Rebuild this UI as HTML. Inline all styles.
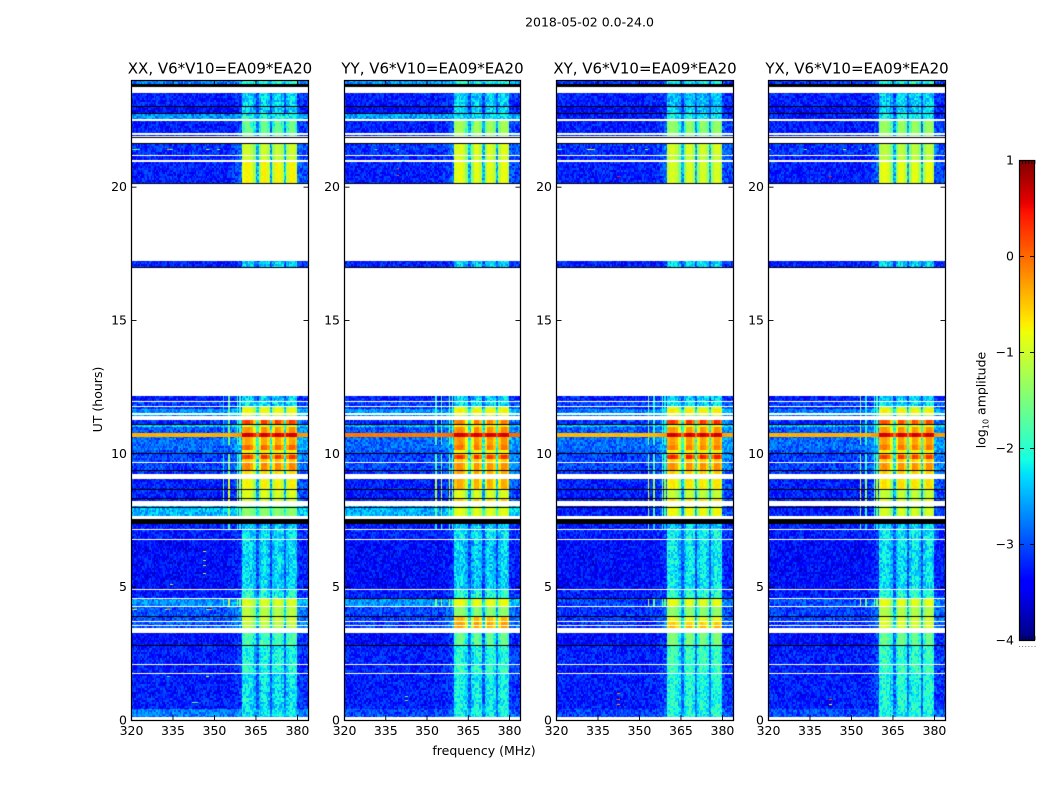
<!DOCTYPE html>
<html lang="en">
<head>
<meta charset="utf-8">
<title>2018-05-02 0.0-24.0</title>
<style>
html,body{margin:0;padding:0;background:#fff}
#figure{position:relative;width:1050px;height:800px;background:#fff;overflow:hidden;font-family:"DejaVu Sans","Liberation Sans",sans-serif;color:#000}
canvas{position:absolute;display:block}
svg{position:absolute;left:0;top:0}
text{font-family:"DejaVu Sans","Liberation Sans",sans-serif;fill:#000}
</style>
</head>
<body>
<div id="figure">
<canvas id="heat0" width="177" height="640" style="left:131px;top:80px"></canvas>
<canvas id="heat1" width="176" height="640" style="left:344px;top:80px"></canvas>
<canvas id="heat2" width="177" height="640" style="left:556px;top:80px"></canvas>
<canvas id="heat3" width="177" height="640" style="left:768px;top:80px"></canvas>
<svg id="overlay" width="1050" height="800" viewBox="0 0 1050 800">
<text x="589.5" y="26.5" text-anchor="middle" font-size="12.5">2018-05-02 0.0-24.0</text>
<text x="484" y="755" text-anchor="middle" font-size="12.5">frequency (MHz)</text>
<text transform="translate(102,399.5) rotate(-90)" text-anchor="middle" font-size="12.5">UT (hours)</text>
<text transform="translate(985.5,400) rotate(-90)" text-anchor="middle" font-size="12.5">log<tspan font-size="8" dy="3">10</tspan><tspan dy="-3"> amplitude</tspan></text>
</svg>
</div>
<script>
// ---- chart values ----
const W = null;   // flagged: white
const K = -99;    // zero amplitude: black
const panelTitles = ["XX, V6*V10=EA09*EA20", "YY, V6*V10=EA09*EA20", "XY, V6*V10=EA09*EA20", "YX, V6*V10=EA09*EA20"];
const xTicks = [320, 335, 350, 365, 380];
const yTicks = [0, 5, 10, 15, 20];
const colorbarTicks = [-4, -3, -2, -1, 0, 1];

// UT band edges (hours), bottom of each panel to top
const utEdges = [
  0,0.11,0.43,1.725,1.76,2.06,2.10,2.775,2.81,3.26,
  3.45,3.54,3.58,3.66,3.71,3.86,3.90,4.24,4.28,4.54,
  4.58,4.875,4.91,6.75,6.79,7.125,7.16,7.35,7.55,7.65,
  7.95,7.99,8.025,8.21,8.27,8.31,8.63,8.67,9.04,9.225,
  9.34,9.38,9.62,9.66,9.79,9.94,9.98,10.02,10.125,10.31,
  10.61,10.76,11.0,11.06,11.1,11.25,11.4,11.44,11.51,11.67,
  11.72,11.78,11.92,11.96,12.15,16.95,17.0,17.21,20.1,20.13,
  20.93,21.0,21.14,21.19,21.6,21.64,21.83,21.87,21.9,21.93,
  22.0,22.46,22.54,22.725,22.76,22.99,23.03,23.51,23.75,23.85,24
];

// log10 amplitude outside the 360-380 MHz band, one value per UT band
const backgroundXX = [
  W,-2.6,-3.1,W,-3.1,W,-3.1,K,-3.2,W,
  -2.8,W,-2.8,W,-2.8,K,-2.8,W,-2.5,W,
  -3.1,W,-3.2,W,-3.1,W,-3.1,K,W,-2.3,
  K,-2.4,W,-3.1,K,-3.1,K,-3.1,W,-3.0,
  K,-2.9,W,-2.9,-2.9,-2.9,K,-2.8,-2.7,-2.7,
  -0.35,-2.8,-2.2,K,-3.0,W,-2.5,W,-2.5,-3.0,
  W,-2.9,W,-3.1,W,K,-3.1,W,K,-3.1,
  W,-3.1,W,-3.0,K,W,K,W,-3.0,W,
  -3.1,W,-2.5,K,-3.2,K,-3.1,W,K,-2.6
];
const backgroundYY = [
  W,-2.85,-3.1,W,-3.1,W,-3.1,K,-3.2,W,
  -2.9,W,-2.9,W,-2.9,K,-2.9,W,-2.5,K,
  -3.1,W,-3.2,W,-3.1,W,-3.1,K,W,-2.35,
  K,-2.4,W,-3.1,K,-3.1,K,-3.1,W,-3.0,
  K,-2.9,W,-2.9,-2.9,-2.9,K,-2.8,-2.7,-2.7,
  -0.05,-2.8,-2.3,K,-3.0,W,-2.5,W,-2.5,-3.0,
  W,-2.9,W,-3.1,W,K,-3.1,W,K,-3.1,
  W,-3.1,W,-3.0,K,W,K,W,-3.0,W,
  -3.1,W,-2.4,K,-3.2,K,-3.1,W,K,-2.5
];
const backgroundXY = [
  W,-2.9,-3.1,W,-3.1,W,-3.1,K,-3.2,W,
  -3.0,W,-3.0,W,-3.0,K,-3.0,W,-2.9,K,
  -3.1,W,-3.2,W,-3.1,W,-3.1,K,W,-3.1,
  K,-3.1,W,-3.1,K,-3.1,K,-3.1,W,-3.0,
  K,-2.9,W,-2.9,-2.9,-2.9,K,-2.8,-2.7,-2.7,
  -0.4,-2.8,-2.3,K,-3.0,W,-2.6,W,-2.6,-3.0,
  W,-2.9,W,-3.1,W,K,-3.1,W,K,-3.1,
  W,-3.1,W,-3.0,K,W,K,W,-3.0,W,
  -3.1,W,-3.1,K,-3.2,K,-3.1,W,K,-3.0
];
const backgroundYX = [
  W,-2.85,-3.1,W,-3.1,W,-3.1,K,-3.2,W,
  -3.0,W,-3.0,W,-2.9,K,-2.9,W,-2.8,W,
  -3.1,W,-3.2,W,-3.1,W,-3.1,K,W,-3.1,
  K,-3.1,W,-3.1,K,-3.1,K,-3.1,W,-3.0,
  K,-2.9,W,-2.9,-2.9,-2.9,K,-2.8,-2.7,-2.7,
  -0.35,-2.8,-2.3,K,-3.0,W,-2.6,W,-2.6,-3.0,
  W,-2.9,W,-3.1,W,K,-3.1,W,K,-3.1,
  W,-3.1,W,-3.0,K,W,K,W,-3.0,W,
  -3.1,W,-3.1,K,-3.2,K,-3.1,W,K,-3.0
];

// log10 amplitude inside the 360-380 MHz band, one value per UT band
const inBandXX = [
  W,-2.1,-2.1,W,-1.9,W,-1.95,K,-1.7,W,
  -1.2,W,-1.1,W,-1.0,K,-1.15,W,-0.95,W,
  -1.9,W,-2.15,W,-2.1,W,-2.2,K,W,-1.4,
  K,-1.6,W,-1.0,K,-0.95,K,-0.8,W,-0.7,
  K,-0.25,W,-0.55,0.2,-0.5,K,-0.75,-0.05,-0.4,
  0.65,-0.3,-1.0,K,0.15,W,-1.0,W,-0.8,-1.0,
  W,-2.1,W,-2.2,W,K,-2.2,W,K,-0.8,
  W,-1.05,W,-1.05,K,W,K,W,-1.6,W,
  -1.6,W,-2.0,K,-2.2,K,-2.2,W,K,-1.9
];
const inBandYY = [
  W,-2.0,-2.0,W,-1.8,W,-1.9,K,-1.6,W,
  -0.4,W,-0.35,W,-0.5,K,-1.4,W,-0.85,K,
  -1.9,W,-2.2,W,-2.1,W,-2.2,K,W,-0.9,
  K,-1.1,W,-0.6,K,-0.95,K,-0.45,W,-0.4,
  K,-0.3,W,-0.6,0.2,-0.5,K,-0.8,-0.15,-0.3,
  0.65,-0.25,-0.7,K,-0.2,W,-1.0,W,-0.75,-1.0,
  W,-2.1,W,-2.2,W,K,-2.2,W,K,-0.9,
  W,-1.0,W,-0.95,K,W,K,W,-1.4,W,
  -1.3,W,-2.1,K,-2.2,K,-2.2,W,K,-1.9
];
const inBandXY = [
  W,-1.9,-1.9,W,-1.75,W,-1.8,K,-1.5,W,
  -0.5,W,-0.6,W,-0.9,K,-1.4,W,-0.9,K,
  -1.85,W,-2.05,W,-2.0,W,-2.2,K,W,-0.85,
  K,-1.0,W,-0.7,K,-1.1,K,-0.75,W,-0.6,
  K,-0.3,W,-0.6,0.3,-0.4,K,-0.75,-0.2,-0.35,
  0.65,-0.3,-0.9,K,0.2,W,-1.0,W,-0.7,-1.0,
  W,-2.1,W,-2.2,W,K,-2.2,W,K,-1.0,
  W,-1.1,W,-1.0,K,W,K,W,-1.5,W,
  -1.4,W,-2.0,K,-2.2,K,-2.3,W,K,-2.0
];
const inBandYX = [
  W,-1.95,-1.9,W,-1.75,W,-1.8,K,-1.6,W,
  -1.0,W,-0.95,W,-1.0,K,-1.2,W,-0.9,W,
  -1.85,W,-2.1,W,-2.05,W,-2.2,K,W,-1.0,
  K,-1.2,W,-0.9,K,-1.1,K,-0.7,W,-0.6,
  K,-0.3,W,-0.6,0.15,-0.45,K,-0.75,-0.15,-0.35,
  0.65,-0.3,-0.9,K,0.05,W,-1.1,W,-0.75,-1.1,
  W,-2.1,W,-2.2,W,K,-2.2,W,K,-0.9,
  W,-1.15,W,-1.15,K,W,K,W,-1.4,W,
  -1.35,W,-2.0,K,-2.2,K,-2.2,W,K,-1.9
];

// share of the in-band level reached by each 1 MHz channel (320..383 MHz)
const channelResponse = [
  0,0,0,0,0,0,0,0,0,0, 0,0,0,0,0,0,0,0,0,0,
  0,0,0,0,0,0,0,0,0,0, 0,0,0,0,0,0,0.04,0.08,0.12,0.18,
  1,1.05,1.05,0.98,0.8,0.35,0.8,1.05,1.05,0.92,
  0.35,0.85,1.05,1.02,0.9,0.35,0.9,1.05,1.05,0.95,
  0.15,0.12,0.1,0.1
];

// narrow interference lines: channels, UT ranges, level, gain per panel and channel
const rfiChannels = [33, 35, 38, 39];
const rfiStart = [4.28, 7.16, 7.65, 8.21, 9.225, 10.31, 10.76, 11.4];
const rfiEnd = [4.54, 7.35, 8.025, 9.04, 9.98, 10.61, 11.25, 12.15];
const rfiLevel = [-1.2, -1.9, -1.4, -0.9, -1.5, -1.6, -1.6, -1.7];
const rfiGainXX = [-0.7, 0, -0.3, -0.3];
const rfiGainYY = [-0.3, -0.1, 0, -0.1];
const rfiGainXY = [0.1, -0.4, -0.3, -0.5];
const rfiGainYX = [0.1, -0.5, -0.4, -0.3];

// isolated bright cells: panel index, UT hour, channel, level
const spikePanel = [0,0,0,0,0,0,0,0,0,0,0,0,0,0,0,0,0,0,0,0,0,0, 1,1,1,1,1,1,1, 2,2,2,2,2,2,2,2,2,2,2, 3,3,3,3,3,3,3];
const spikeUT = [21.4,21.4,21.4,21.4,21.4,21.4,21.4,4.16,4.16,4.16,4.16,4.16,4.16,1.65,1.65,0.68,0.68,5.5,5.8,6.0,6.35,5.1,
  0.9,0.75,20.7,20.45,20.95,21.4,21.4,
  21.4,21.4,21.4,21.4,21.4,21.4,21.4,0.8,0.6,1.0,20.4,
  21.4,21.4,21.4,21.4,20.4,0.8,0.6];
const spikeChannel = [0,1,2,13,14,31,27,0,1,13,12,28,27,27,13,22,23,26,26,26,26,14,
  22,22,19,19,21,11,19,
  0,1,11,12,13,27,32,22,22,22,22,
  0,13,27,33,22,22,22];
const spikeLevel = [-1.9,-1.3,-2,-0.3,-1.7,-1.2,-1,-0.6,-1,0,-1.5,-0.3,-1.5,-0.8,-2,-1.5,-1.8,-1.2,-1.1,-1.2,-1,-1.2,
  -1.7,-1.5,0.2,0.1,-2,-1.9,-1.8,
  -2,-1.9,-1,-0.7,-1.3,-1,-1.2,0.1,-0.3,-0.2,0.4,
  -1.7,-1.7,-1,-1.5,0.4,0.1,-0.8];

// fixed table of cell-to-cell speckle (log10 units), approximating visible noise
const speckle = [
  0.12,-0.21,0.31,-0.05,0.18,-0.33,0.07,0.26,-0.14,0.02,-0.27,0.35,-0.09,0.15,-0.19,0.22,
  -0.31,0.04,0.29,-0.12,0.09,-0.24,0.33,-0.02,0.17,-0.29,0.11,0.24,-0.17,-0.04,0.28,-0.35,
  0.06,0.19,-0.11,0.32,-0.22,0.01,0.14,-0.26,0.25,-0.07,0.21,-0.16,0.08,-0.32,0.3,-0.01,
  0.13,-0.23,0.27,-0.1,0.05,-0.3,0.2,0.34,-0.15,0.03,-0.25,0.16,-0.06,0.23,-0.34,0.1,
  0.28,-0.18,-0.03,0.31,-0.2,0.07,-0.28,0.17,0.26,-0.08,0.12,-0.36,0.22,0.0,-0.13,0.29,
  -0.24,0.09,0.18,-0.3,0.33,-0.04,0.15,-0.19,0.06,0.25,-0.27,0.11,-0.12,0.3,-0.21,0.02,0.2
];

// ---- layout ----
const panelLeft = [131, 344, 556, 768];
const panelWidth = [177, 176, 177, 177];
const plotTop = 80, plotBottom = 720;
const freqMin = 320, freqMax = 384, utMin = 0, utMax = 24, channelCount = 64, rowHours = 0.075;
const channelShift = 0.15, subColumns = 2, noiseBias = -0.18;
const levelMin = -4, levelMax = 1;
const cbLeft = 1019, cbRight = 1035, cbTop = 160, cbBottom = 640;

const backgrounds = [backgroundXX, backgroundYY, backgroundXY, backgroundYX];
const inBands = [inBandXX, inBandYY, inBandXY, inBandYX];
const rfiGains = [rfiGainXX, rfiGainYY, rfiGainXY, rfiGainYX];
const panelKeys = ["xx", "yy", "xy", "yx"];

function xScale(panel, mhz) { return (mhz - freqMin) / (freqMax - freqMin) * panelWidth[panel]; }
function xInvert(panel, px) { return freqMin + px / panelWidth[panel] * (freqMax - freqMin); }
function yScale(ut) { return (plotBottom - plotTop) * (1 - (ut - utMin) / (utMax - utMin)); }
function yInvert(py) { return utMin + (1 - py / (plotBottom - plotTop)) * (utMax - utMin); }
function cbScale(level) { return cbBottom - (level - levelMin) / (levelMax - levelMin) * (cbBottom - cbTop); }

function ramp(t, stops) {
  for (let i = 1; i < stops.length; i++) {
    if (t <= stops[i][0]) {
      const a = stops[i - 1], b = stops[i];
      return a[1] + (b[1] - a[1]) * (t - a[0]) / (b[0] - a[0]);
    }
  }
  return stops[stops.length - 1][1];
}
const jetR = [[0,0],[0.35,0],[0.66,1],[0.89,1],[1,0.5]];
const jetG = [[0,0],[0.125,0],[0.375,1],[0.64,1],[0.91,0],[1,0]];
const jetB = [[0,0.5],[0.11,1],[0.34,1],[0.65,0],[1,0]];
function jetRGB(level) {
  const t = Math.max(0, Math.min(1, (level - levelMin) / (levelMax - levelMin)));
  return [Math.round(255 * ramp(t, jetR)), Math.round(255 * ramp(t, jetG)), Math.round(255 * ramp(t, jetB))];
}
function jet(level) { const c = jetRGB(level); return "rgb(" + c[0] + "," + c[1] + "," + c[2] + ")"; }
function speckleScale(level) { return level > -1.6 ? 0.2 : 1; }
function speckleAt(row, col, panel) {
  return speckle[(row * row * 3 + col * col * 5 + row * col + panel * 11 + row * 7) % speckle.length];
}

// ---- heatmaps ----
function drawPanel(panel) {
  const canvas = document.getElementById("heat" + panel);
  const ctx = canvas.getContext("2d");
  const img = ctx.createImageData(canvas.width, canvas.height);
  const bg = backgrounds[panel], inb = inBands[panel];
  let band = 0;
  for (let py = canvas.height - 1; py >= 0; py--) {
    const ut = yInvert(py + 0.5);
    while (band < utEdges.length - 2 && ut >= utEdges[band + 1]) band++;
    const row = Math.floor(ut / rowHours);
    let active = -1;
    for (let q = 0; q < rfiStart.length; q++) {
      if (ut >= rfiStart[q] && ut <= rfiEnd[q]) active = q;
    }
    for (let px = 0; px < canvas.width; px++) {
      let rgb;
      if (bg[band] === W) {
        rgb = [255, 255, 255];
      } else if (bg[band] === K) {
        rgb = [0, 0, 0];
      } else {
        const pos = Math.max(0, xInvert(panel, px + 0.5) - freqMin - channelShift);
        const c = Math.min(channelCount - 1, Math.floor(pos));
        const col = Math.floor(pos * subColumns);
        let v = bg[band] + (inb[band] - bg[band]) * channelResponse[c];
        const scale = speckleScale(v);
        v += (speckleAt(row, col, panel) + noiseBias) * scale;
        const rc = rfiChannels.indexOf(c);
        if (rc >= 0 && active >= 0 && col % subColumns === 0) {
          v = Math.max(v, rfiLevel[active] + rfiGains[panel][rc]);
        }
        rgb = jetRGB(v);
      }
      const i = (py * canvas.width + px) * 4;
      img.data[i] = rgb[0];
      img.data[i + 1] = rgb[1];
      img.data[i + 2] = rgb[2];
      img.data[i + 3] = 255;
    }
  }
  ctx.putImageData(img, 0, 0);
  // flagged bands are re-drawn whole so that thin lines stay exactly one band thick
  for (let b = 0; b < utEdges.length - 1; b++) {
    if (bg[b] !== W && bg[b] !== K) continue;
    const y0 = Math.round(yScale(utEdges[b + 1]));
    const y1 = Math.max(y0 + 1, Math.round(yScale(utEdges[b])));
    ctx.fillStyle = bg[b] === W ? "#fff" : "#000";
    ctx.fillRect(0, y0, canvas.width, y1 - y0);
  }
  for (let s = 0; s < spikeUT.length; s++) {
    if (spikePanel[s] !== panel) continue;
    const x0 = Math.round(xScale(panel, freqMin + channelShift + spikeChannel[s]));
    const x1 = Math.round(xScale(panel, freqMin + channelShift + spikeChannel[s] + 1));
    ctx.fillStyle = jet(spikeLevel[s]);
    ctx.fillRect(x0, Math.round(yScale(spikeUT[s])), x1 - x0, 1);
  }
}

// ---- axes ----
const SVGNS = "http://www.w3.org/2000/svg";
const overlay = document.getElementById("overlay");
function make(tag, attrs, parent) {
  const el = document.createElementNS(SVGNS, tag);
  for (const k in attrs) el.setAttribute(k, attrs[k]);
  (parent || overlay).appendChild(el);
  return el;
}
function minusText(v) { return v < 0 ? "\u2212" + Math.abs(v) : String(v); }

function drawAxes(panel) {
  const key = panelKeys[panel];
  const left = panelLeft[panel] + 0.5, w = panelWidth[panel];
  const g = make("g", {});
  
  

  const frame = make("rect", { x: left, y: plotTop + 0.5, width: w, height: plotBottom - plotTop, fill: "none", stroke: "#000", "stroke-width": 1.25 }, g);
  
  

  const title = make("text", { x: left + w / 2, y: 73.5, "text-anchor": "middle", "font-size": 15 }, g);
  title.textContent = panelTitles[panel];
  
  

  xTicks.forEach(function (t) {
    const x = left + xScale(panel, t);
    const tickB = make("line", { x1: x, x2: x, y1: plotBottom, y2: plotBottom - 5, stroke: "#000", "stroke-width": 0.9 }, g);
    
    
    const tickT = make("line", { x1: x, x2: x, y1: plotTop, y2: plotTop + 5, stroke: "#000", "stroke-width": 0.9 }, g);
    
    
    const label = make("text", { x: x, y: 735, "text-anchor": "middle", "font-size": 12.5 }, g);
    label.textContent = String(t);
    
    
  });

  yTicks.forEach(function (t) {
    const y = plotTop + yScale(t) + 0.5;
    const tickL = make("line", { x1: left, x2: left + 5, y1: y, y2: y, stroke: "#000", "stroke-width": 0.9 }, g);
    
    
    const tickR = make("line", { x1: left + w, x2: left + w - 5, y1: y, y2: y, stroke: "#000", "stroke-width": 0.9 }, g);
    
    
    const label = make("text", { x: left - 4.5, y: y + 4, "text-anchor": "end", "font-size": 12.5 }, g);
    label.textContent = String(t);
    
    
  });
}

// ---- colorbar ----
function drawColorbar() {
  const g = make("g", {});
  
  
  const stepLevel = (levelMax - levelMin) / (cbBottom - cbTop);
  for (let y = cbTop; y < cbBottom; y += 2) {
    const level = levelMax - (y - cbTop + 1) * stepLevel;
    const seg = make("rect", { x: cbLeft, y: y, width: cbRight - cbLeft, height: 2.2, fill: jet(level) }, g);
    
    
  }
  const frame = make("rect", { x: cbLeft + 0.5, y: cbTop + 0.5, width: cbRight - cbLeft - 1, height: cbBottom - cbTop, fill: "none", stroke: "#000", "stroke-width": 1.2 }, g);
  
  

  colorbarTicks.forEach(function (t) {
    const y = Math.round(cbScale(t)) + 0.5;
    const tickL = make("line", { x1: cbLeft, x2: cbLeft + 5, y1: y, y2: y, stroke: "#000", "stroke-width": 0.9 }, g);
    
    
    const tickR = make("line", { x1: cbRight, x2: cbRight - 5, y1: y, y2: y, stroke: "#000", "stroke-width": 0.9 }, g);
    
    
    const label = make("text", { x: 1014, y: y + 4, "text-anchor": "end", "font-size": 12.5 }, g);
    label.textContent = minusText(t);
    
    
  });

  for (let i = 0; i < 6; i++) {
    const x = cbLeft + 0.5 + i * 3.1;
    const tTop = make("line", { x1: x, x2: x, y1: cbTop, y2: cbTop + 4, stroke: "#000", "stroke-width": 0.7 }, g);
    
    
    const tBot = make("line", { x1: x, x2: x, y1: cbBottom, y2: cbBottom - 4, stroke: "#000", "stroke-width": 0.7 }, g);
    
    
    const dot = make("rect", { x: x - 0.5, y: 646, width: 1, height: 1, fill: "#777" }, g);
    
    
  }
}

for (let p = 0; p < 4; p++) {
  drawPanel(p);
  drawAxes(p);
}
drawColorbar();
</script>
</body>
</html>
